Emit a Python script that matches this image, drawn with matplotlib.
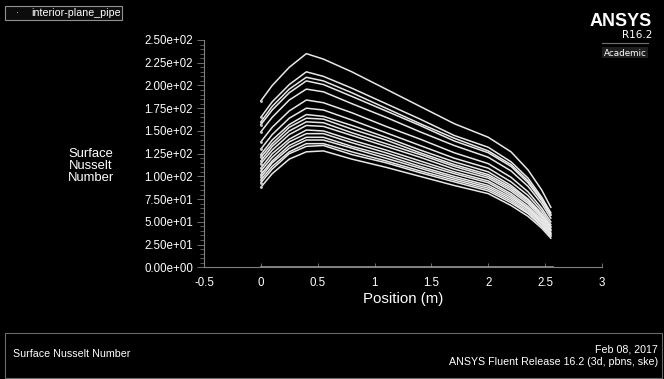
import matplotlib.pyplot as plt
from matplotlib.patches import Rectangle
from matplotlib.lines import Line2D
from matplotlib.ticker import MultipleLocator, FuncFormatter

plt.rcParams['font.family'] = ['Liberation Sans', 'DejaVu Sans']

# position along the pipe (m)
pos = [0.0, 0.1, 0.25, 0.4, 0.55, 0.8, 1.1, 1.4, 1.7, 2.0, 2.2, 2.35, 2.47, 2.55]

# surface Nusselt number, one list per curve (top to bottom)
nu_01 = [183, 200, 220, 235, 229, 215, 196, 177, 158, 143, 127, 107, 85, 66]
nu_02 = [165, 182, 201, 215, 210, 197, 180, 163, 145, 132, 116, 98, 77, 60]
nu_03 = [160, 177, 196, 209, 205, 192, 175, 158, 142, 128, 113, 95, 75, 58]
nu_04 = [157, 173, 192, 205, 201, 188, 172, 156, 139, 126, 111, 93, 73, 57]
nu_05 = [149, 165, 184, 196, 193, 180, 165, 149, 134, 121, 106, 89, 70, 54]
nu_06 = [138, 154, 172, 184, 181, 170, 155, 141, 126, 114, 99, 83, 65, 50]
nu_07 = [130, 146, 164, 175, 173, 162, 148, 134, 120, 109, 94, 79, 62, 47]
nu_08 = [124, 140, 157, 168, 166, 156, 143, 129, 116, 105, 90, 75, 59, 45]
nu_09 = [121, 136, 154, 164, 163, 152, 140, 126, 113, 102, 88, 74, 57, 44]
nu_10 = [117, 133, 150, 160, 159, 148, 136, 124, 111, 100, 86, 72, 56, 42]
nu_11 = [114, 129, 146, 156, 155, 145, 133, 121, 108, 98, 84, 70, 54, 41]
nu_12 = [109, 125, 141, 151, 150, 140, 129, 117, 105, 95, 81, 67, 52, 40]
nu_13 = [106, 121, 138, 147, 147, 137, 126, 114, 103, 93, 79, 65, 51, 38]
nu_14 = [102, 117, 134, 143, 143, 133, 123, 111, 100, 90, 77, 64, 49, 37]
nu_15 = [99, 115, 131, 140, 140, 131, 120, 109, 98, 88, 75, 62, 48, 36]
nu_16 = [96, 111, 127, 136, 136, 127, 117, 106, 96, 86, 73, 60, 46, 35]
nu_17 = [93, 108, 125, 133, 134, 124, 115, 104, 94, 84, 71, 59, 45, 34]
nu_18 = [88, 103, 119, 127, 128, 119, 110, 100, 90, 81, 68, 56, 43, 32]
curves = [nu_01, nu_02, nu_03, nu_04, nu_05, nu_06, nu_07, nu_08, nu_09,
          nu_10, nu_11, nu_12, nu_13, nu_14, nu_15, nu_16, nu_17, nu_18]

# points lying on the axis (zero values)
zero_pos = [0.0, 2.57]
zero_nu = [0, 0]

fig = plt.figure(figsize=(6.64, 3.79), dpi=100, facecolor='black')
ax = fig.add_axes([204 / 664, 1 - 267.3 / 379, 398 / 664, 227.3 / 379])
ax.set_facecolor('black')

for c in curves:
    ax.plot(pos, c, color='#e8e8e8', lw=1.1)
    ax.plot(pos[0], c[0], '.', color='#cccccc', ms=2)
ax.plot(zero_pos, zero_nu, color='#9a9a9a', lw=1.2, clip_on=False)

ax.set_xlim(-0.5, 3)
ax.set_ylim(0, 250)
for s in ['top', 'right']:
    ax.spines[s].set_visible(False)
for s in ['left', 'bottom']:
    ax.spines[s].set_color('#808080')
    ax.spines[s].set_linewidth(0.8)

ax.xaxis.set_major_locator(MultipleLocator(0.5))
ax.xaxis.set_minor_locator(MultipleLocator(0.25))
ax.yaxis.set_major_locator(MultipleLocator(25))
ax.yaxis.set_minor_locator(MultipleLocator(5))
ax.yaxis.set_major_formatter(FuncFormatter(lambda v, p: '%.2e' % v))
ax.xaxis.set_major_formatter(FuncFormatter(lambda v, p: ('%g' % v)))
ax.tick_params(colors='#808080', labelcolor='white', labelsize=8.3, width=0.6)
ax.tick_params(axis='y', which='major', length=5, pad=3)
ax.tick_params(axis='y', which='minor', length=3, color='#808080', width=0.5)
ax.tick_params(axis='x', which='both', direction='in', length=3, pad=7)

fig.text(403 / 664, 1 - 299 / 379, 'Position (m)', color='white', fontsize=10.8,
         ha='center', va='center')
fig.text(91 / 664, 1 - 166 / 379, 'Surface\nNusselt\nNumber', color='white',
         fontsize=9.4, ha='center', va='center', linespacing=0.95)

# legend box top left
fig.patches.append(Rectangle((5 / 664, 1 - 20 / 379), 117 / 664, 14 / 379,
                             transform=fig.transFigure, facecolor='#0c0c0c',
                             edgecolor='#909090', lw=0.8))
fig.text(17 / 664, 1 - 13 / 379, '·', color='white', fontsize=7, ha='center', va='center')
fig.text(31 / 664, 1 - 13 / 379, 'interior-plane_pipe', color='white', fontsize=7.7,
         ha='left', va='center')

# ANSYS logo
fig.text(652 / 664, 1 - 21 / 379, 'ANSYS', color='white', fontsize=13,
         fontweight='bold', ha='right', va='center',
         family=['Liberation Sans Narrow', 'Liberation Sans'])
fig.text(652 / 664, 1 - 35 / 379, 'R16.2', color='white', fontsize=7.5,
         ha='right', va='center', family=['DejaVu Sans'])
fig.patches.append(Rectangle((602 / 664, 1 - 58 / 379), 46 / 664, 11 / 379,
                             transform=fig.transFigure, facecolor='#1e1e1e',
                             edgecolor='none'))
fig.lines.append(Line2D([602 / 664, 648 / 664], [1 - 43 / 379, 1 - 43 / 379],
                        transform=fig.transFigure, color='#707070', lw=0.8))
fig.text(625 / 664, 1 - 53 / 379, 'Academic', color='white', fontsize=6.3,
         ha='center', va='center', family=['DejaVu Sans'])

# bottom info panel
fig.patches.append(Rectangle((4.7 / 664, 1 - 377.7 / 379), 657 / 664, 44.4 / 379,
                             transform=fig.transFigure, fill=False,
                             edgecolor='#6a6a6a', lw=0.8))
fig.text(12.7 / 664, 1 - 354 / 379, 'Surface Nusselt Number', color='white',
         fontsize=7.7, ha='left', va='center')
fig.text(658 / 664, 1 - 349 / 379, 'Feb 08, 2017', color='white',
         fontsize=7.7, ha='right', va='center')
fig.text(658 / 664, 1 - 362 / 379, 'ANSYS Fluent Release 16.2 (3d, pbns, ske)',
         color='white', fontsize=7.7, ha='right', va='center')

fig.savefig('out.png', dpi=100, facecolor='black')
